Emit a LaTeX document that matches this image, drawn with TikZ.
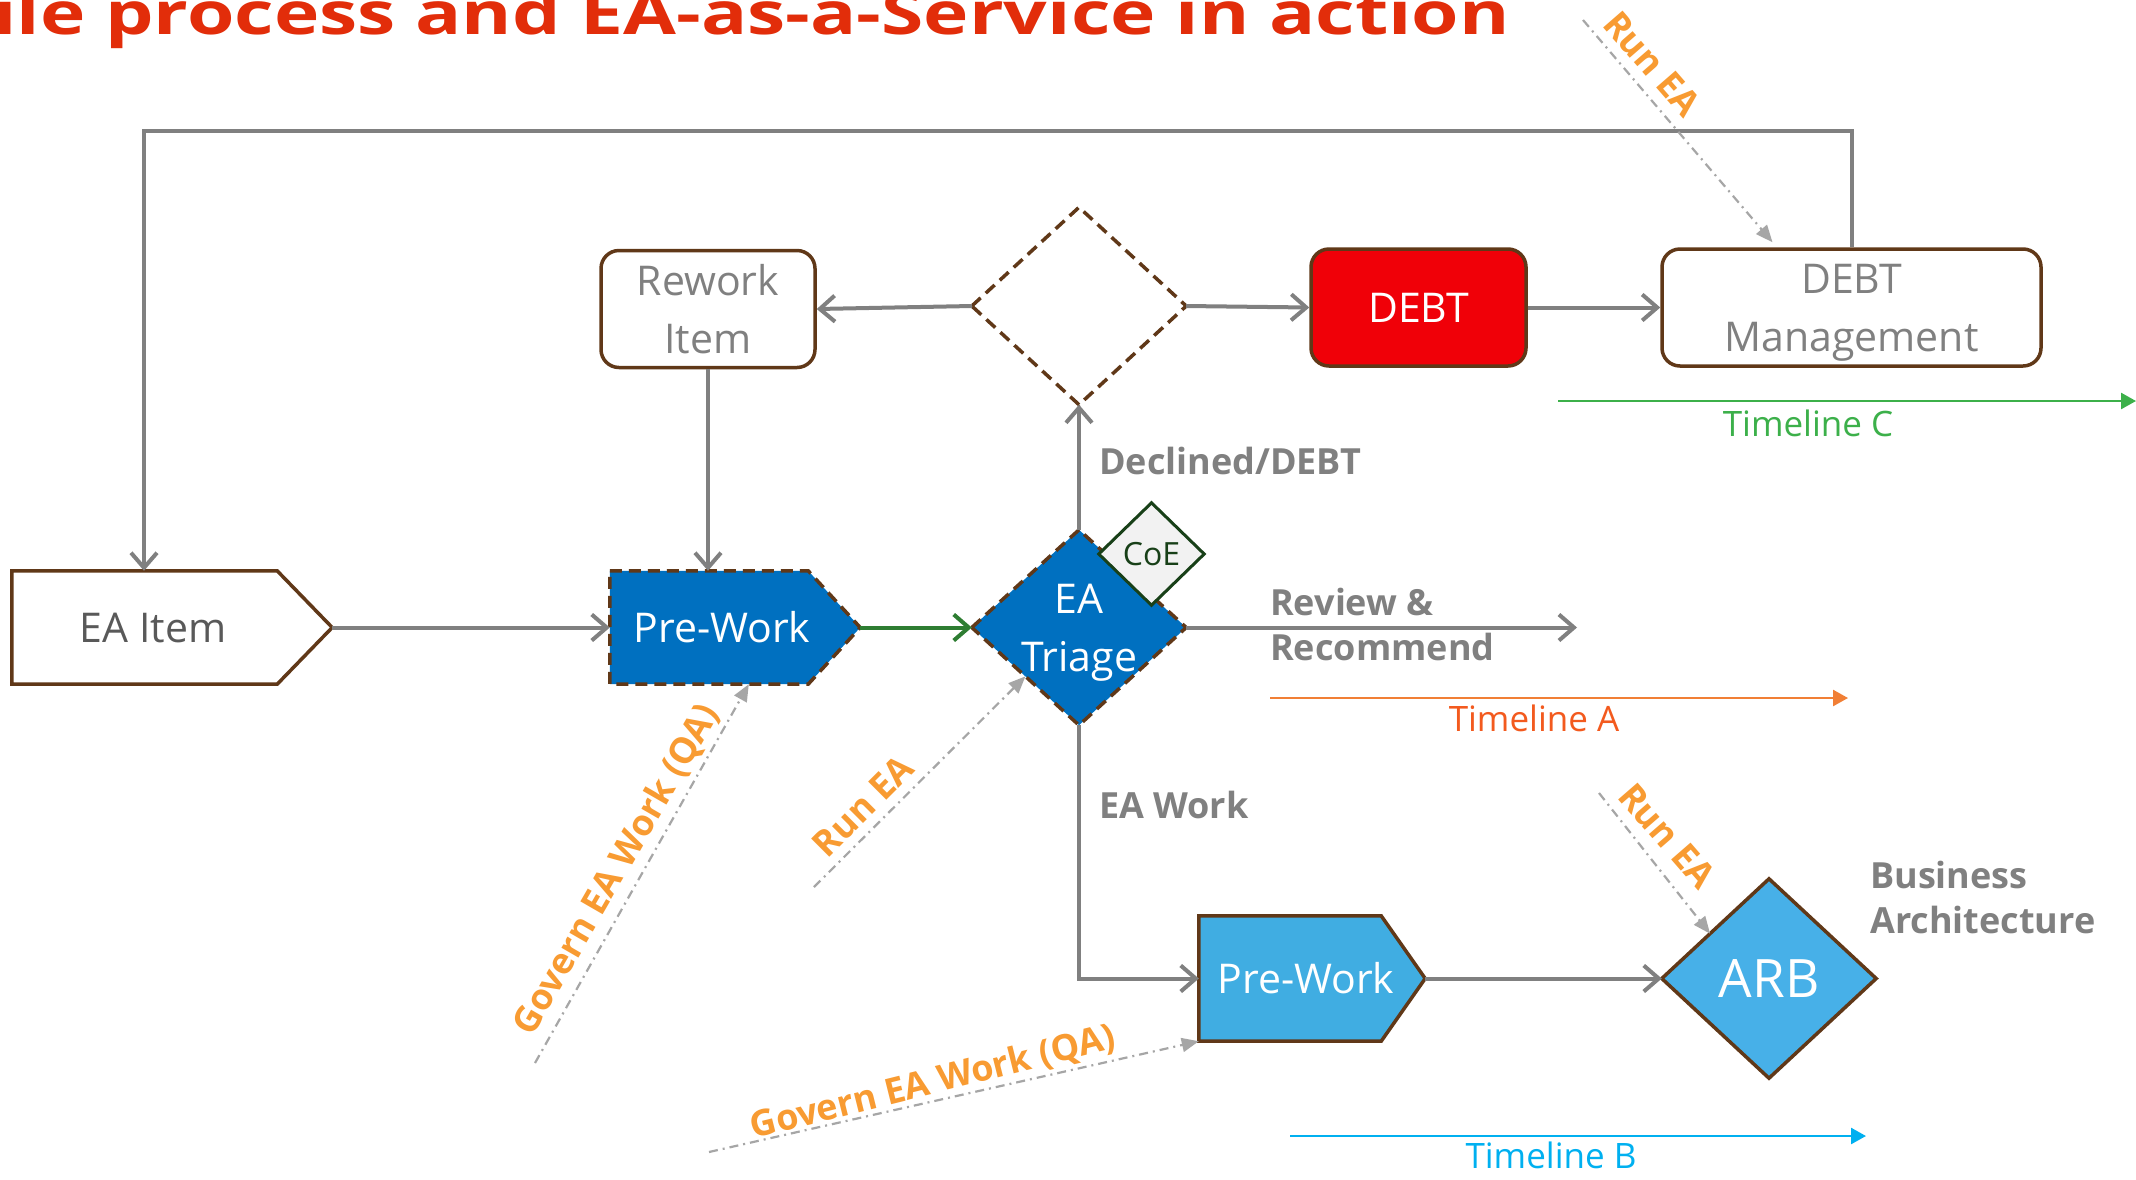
\documentclass[tikz,border=0pt]{standalone}
\usepackage{graphicx}
\usepackage{fontspec}
\setmainfont{Open Sans}
\usetikzlibrary{arrows.meta,calc,backgrounds}
\definecolor{brn}{RGB}{96,56,24}
\definecolor{lgray}{RGB}{128,128,128}
\definecolor{txtgray}{RGB}{128,128,128}
\definecolor{dkgray}{RGB}{89,89,89}
\definecolor{eablue}{RGB}{0,112,192}
\definecolor{pwbblue}{RGB}{64,173,226}
\definecolor{arbblue}{RGB}{71,176,232}
\definecolor{debtred}{RGB}{240,0,8}
\definecolor{grnline}{RGB}{60,176,74}
\definecolor{dkgreen}{RGB}{46,125,50}
\definecolor{coegreen}{RGB}{24,64,24}
\definecolor{coefill}{RGB}{242,242,242}
\definecolor{orgline}{RGB}{241,127,53}
\definecolor{orgtext}{RGB}{243,90,30}
\definecolor{tlblue}{RGB}{0,176,240}
\definecolor{annotc}{RGB}{248,155,50}
\definecolor{ddgray}{RGB}{166,166,166}
\definecolor{titlered}{RGB}{226,45,10}
\newcommand\myNF{\fontsize{41}{58}\selectfont}
\newcommand\myLF{\bfseries\fontsize{36}{45}\selectfont}
\newcommand\myTF{\fontsize{35}{42}\selectfont}
\begin{document}
\begin{tikzpicture}[x=1pt,y=-1pt,
 rbox/.style={draw=brn, line width=3.5pt, rounded corners=18pt, minimum width=214pt, minimum height=117pt, inner sep=0pt, align=center, text=txtgray, font=\myNF},
 shp/.style={inner sep=0pt, align=center, font=\myNF},
 outl/.style={draw=brn, line width=3.5pt, line join=miter},
 dashd/.style={dash pattern=on 12pt off 7pt},
 conn/.style={draw=lgray, line width=4pt, -{Straight Barb[length=15pt,width=26pt]}},
 tline/.style={line width=2.5pt, -{Triangle[length=15pt,width=16pt]}},
 ddarr/.style={draw=ddgray, line width=2.2pt, dash pattern=on 9pt off 5pt on 2pt off 5pt, -{Triangle[length=17pt,width=14pt]}},
 annot/.style={text=annotc, font=\bfseries\fontsize{36}{40}\selectfont, inner sep=0pt},
 lbl/.style={text=txtgray, font=\myLF, align=left, inner sep=0pt},
 tlab/.style={font=\myTF, inner sep=0pt, anchor=base}]
\useasboundingbox (0,0) rectangle (2136,1179);

% title
\node[anchor=base east, text=titlered, font=\bfseries\fontsize{59}{64}\selectfont, inner sep=0pt] (title) at (1510,34) {\scalebox{1.30}[1]{ile process and EA-as-a-Service in action}};

% nodes
\node[rbox] (rework) at (708,309) {Rework\\Item};
\node[rbox, fill=debtred, text=white, minimum width=215pt] (debt) at (1418.5,307.5) {DEBT};
\node[rbox, minimum width=379pt, text depth=0pt] (debtm) at (1851.5,307.5) {DEBT\\Management};
\node[shp, minimum width=214pt, minimum height=197pt] (dec) at (1079,306) {};
\node[shp, minimum width=320pt, minimum height=113pt, text=dkgray] (eaitem) at (172,627.5) {\hspace*{-38pt}EA Item};
\node[shp, minimum width=250pt, minimum height=113pt, text=white] (prework) at (735,627.5) {\hspace*{-26pt}Pre-Work};
\node[shp, minimum width=214pt, minimum height=195pt, text=white, text depth=0pt] (triage) at (1079,627.5) {EA\\Triage};
\node[shp, minimum width=105pt, minimum height=102pt, text=coegreen, font=\fontsize{32}{36}\selectfont] (coe) at (1151.5,554) {CoE};
\node[shp, minimum width=226pt, minimum height=125pt, text=white] (pwb) at (1312,978.5) {\hspace*{-12pt}Pre-Work};
\node[shp, minimum width=214pt, minimum height=199pt, text=white, font=\fontsize{53}{60}\selectfont] (arb) at (1769,978.5) {ARB};

\begin{pgfonlayer}{background}
\fill[white] (0,0) rectangle (2136,1179);
\draw[outl, fill=white] (eaitem.north west) -- ($(eaitem.north east)+(-55,0)$) -- (eaitem.east) -- ($(eaitem.south east)+(-55,0)$) -- (eaitem.south west) -- cycle;
\draw[outl, dashd, fill=eablue] (prework.north west) -- ($(prework.north east)+(-52,0)$) -- (prework.east) -- ($(prework.south east)+(-52,0)$) -- (prework.south west) -- cycle;
\draw[outl, fill=pwbblue] (pwb.north west) -- ($(pwb.north east)+(-44,0)$) -- (pwb.east) -- ($(pwb.south east)+(-44,0)$) -- (pwb.south west) -- cycle;
\draw[outl, dashd] (dec.west) -- (dec.north) -- (dec.east) -- (dec.south) -- cycle;
\draw[outl, dashd, fill=eablue] (triage.west) -- (triage.north) -- (triage.east) -- (triage.south) -- cycle;
\draw[draw=coegreen, line width=3pt, fill=coefill] (coe.west) -- (coe.north) -- (coe.east) -- (coe.south) -- cycle;
\draw[outl, fill=arbblue] (arb.west) -- (arb.north) -- (arb.east) -- (arb.south) -- cycle;
\end{pgfonlayer}

% coordinates for free ends
\coordinate (loopL) at (144,131);
\coordinate (revEnd) at (1577,627.5);
\coordinate (tcS) at (1558,401);
\coordinate (tcE) at (2136,401);
\coordinate (taS) at (1270,698);
\coordinate (taE) at (1848,698);
\coordinate (tbS) at (1290,1136);
\coordinate (tbE) at (1866,1136);
\coordinate (r1S) at (1583,20);
\coordinate (r2S) at (814,887);
\coordinate (g1S) at (535,1063);
\coordinate (g2S) at (709,1152);
\coordinate (r3S) at (1599,793);

% connectors
\draw[conn] (debtm.north) |- (loopL) -- (loopL |- eaitem.north);
\draw[conn] (dec.west) -- (rework.east);
\draw[conn] (dec.east) -- (debt.west);
\draw[conn] (debt.east) -- (debtm.west);
\draw[conn] (eaitem.east) -- (prework.west);
\draw[conn] (rework.south) -- (rework.south |- prework.north);
\draw[conn, draw=dkgreen] (prework.east) -- (triage.west);
\draw[conn] (triage.north) -- (dec.south);
\draw[conn] (triage.east) -- (revEnd);
\draw[conn] (triage.south) |- (pwb.west);
\draw[conn] (pwb.east) -- (arb.west);

% timelines
\draw[tline, draw=grnline, fill=grnline] (tcS) -- (tcE);
\draw[tline, draw=orgline, fill=orgline] (taS) -- (taE);
\draw[tline, draw=tlblue, fill=tlblue] (tbS) -- (tbE);
\node[tlab, text=grnline] (tlc) at (1808,436) {Timeline C};
\node[tlab, text=orgtext] (tla) at (1534,731) {Timeline A};
\node[tlab, text=tlblue] (tlb) at (1551,1168) {Timeline B};

% labels (base anchor = last line)
\node[lbl, anchor=base west] (lblDec) at (1099,474) {Declined/DEBT};
\node[lbl, anchor=base west] (lblRev) at (1270,660) {Review \&\\Recommend};
\node[lbl, anchor=base west] (lblWork) at (1099,818) {EA Work};
\node[lbl, anchor=base west] (lblBA) at (1870,933) {Business\\Architecture};

% dash-dot governance arrows
\draw[ddarr] (r1S) -- ($(debtm.north)+(-79,-5)$);
\draw[ddarr] (r2S) -- ($(triage.west)!0.5!(triage.south)$);
\draw[ddarr] (g1S) -- ($(prework.south west)+(139,0)$);
\draw[ddarr] (g2S) -- (pwb.south west);
\draw[ddarr] (r3S) -- ($(arb.west)!0.45!(arb.north)$);

\node[annot, rotate=-49] (a1) at (1652,64) {Run EA};
\node[annot, rotate=45] (a2) at (863,806) {Run EA};
\node[annot, rotate=60] (a3) at (617,870) {Govern EA Work (QA)};
\node[annot, rotate=14] (a4) at (933,1083) {Govern EA Work (QA)};
\node[annot, rotate=-49] (a5) at (1667,836) {Run EA};
\end{tikzpicture}
\end{document}
